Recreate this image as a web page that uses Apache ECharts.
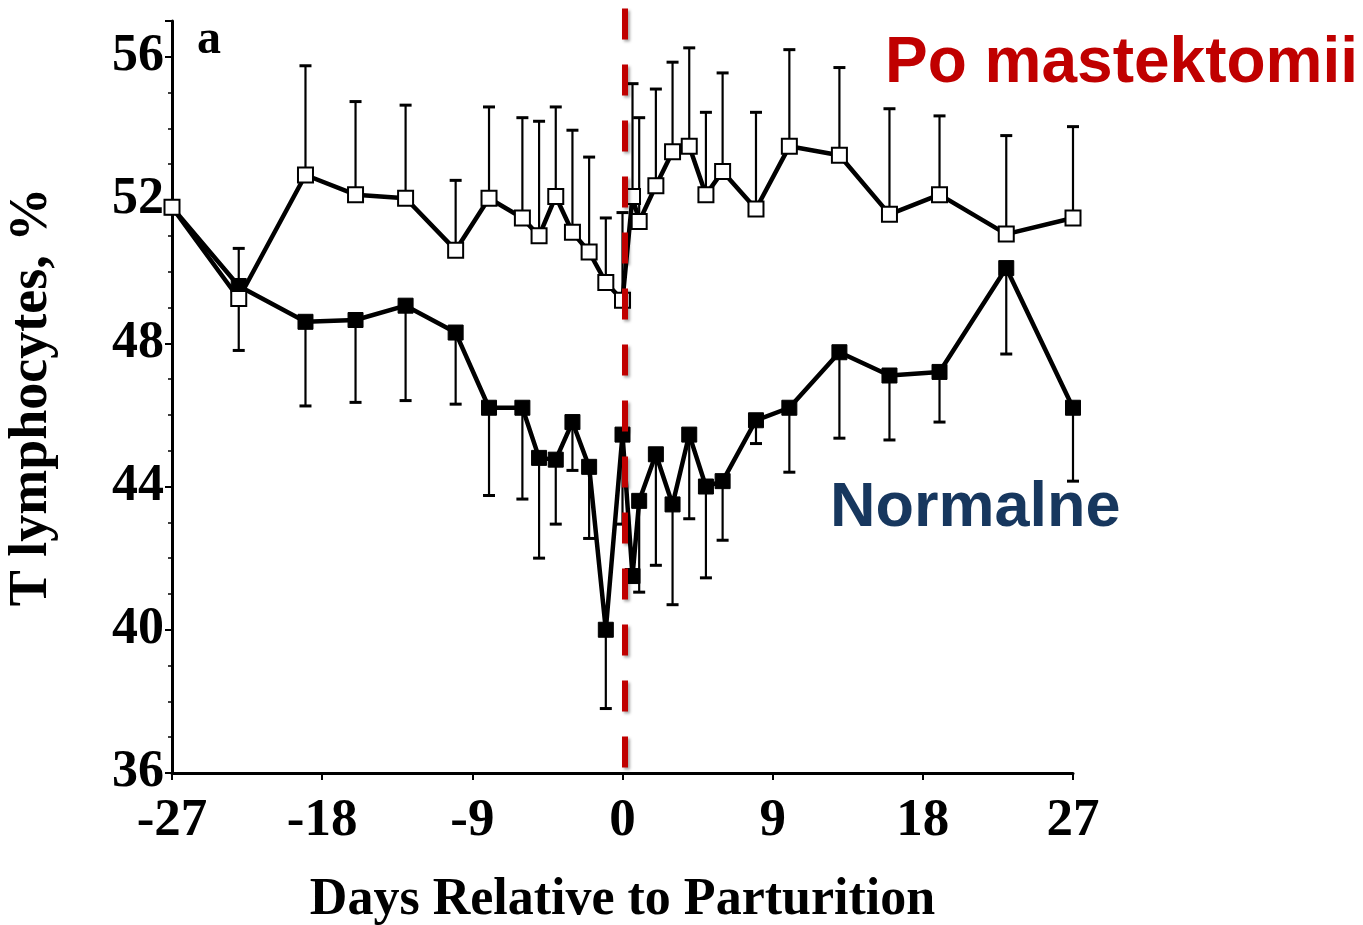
<!DOCTYPE html>
<html><head><meta charset="utf-8">
<script src="https://cdn.jsdelivr.net/npm/echarts@6/dist/echarts.min.js"></script>
<style>html,body{margin:0;padding:0;background:#fff}#c{width:1363px;height:925px}</style>
</head><body><div id="c"></div>
<script>
// Days relative to parturition (x values)
const days = [-27,-23,-19,-16,-13,-10,-8,-6,-5,-4,-3,-2,-1,0,0.6,1,2,3,4,5,6,8,10,13,16,19,23,27];
// "Normalne" (filled squares) means and SE (drawn downward)
const normalne = [51.8,49.6,48.6,48.65,49.05,48.3,46.2,46.2,44.8,44.75,45.8,44.55,40.0,45.45,41.5,43.6,44.9,43.5,45.45,44.0,44.15,45.85,46.2,47.75,47.1,47.2,50.1,46.2];
const normalneErr = [0,1.8,2.35,2.3,2.65,2.0,2.45,2.55,2.8,1.8,1.35,2.0,2.2,2.5,0,2.55,3.1,2.8,2.35,2.55,1.65,0.65,1.8,2.4,1.8,1.4,2.4,2.05];
// "Po mastektomii" (open squares) means and SE (drawn upward)
const mastektomia = [51.8,49.25,52.7,52.15,52.05,50.6,52.05,51.5,51.0,52.1,51.1,50.55,49.7,49.2,52.1,51.4,52.4,53.35,53.5,52.15,52.8,51.75,53.5,53.25,51.6,52.15,51.05,51.5];
const mastektomiaErr = [0,1.4,3.05,2.6,2.6,1.95,2.55,2.8,3.2,2.5,2.85,2.65,1.8,2.45,3.15,2.9,2.7,2.5,2.75,2.3,2.75,2.7,2.7,2.45,2.95,2.2,2.75,2.55];
// Axis ticks
const xTicks = [-27,-18,-9,0,9,18,27];
const yTicks = [36,40,44,48,52,56];
// Parturition marker (red dashed line)
const markerDay = 0.15;
const markerTop = 57.35;
const markerBottom = 36;

const serif = '"Liberation Serif","Times New Roman",serif';
const sans = '"Liberation Sans",Arial,sans-serif';

function errRender(params, api) {
  const x = api.value(0), y0 = api.value(1), y1 = api.value(2);
  if (y0 === y1) return null;
  const p0 = api.coord([x, y0]);
  const p1 = api.coord([x, y1]);
  const cap = 6;
  return {type: 'group', children: [
    {type: 'line', shape: {x1: p0[0], y1: p0[1], x2: p1[0], y2: p1[1]}, style: {stroke: '#000', lineWidth: 2.2}},
    {type: 'line', shape: {x1: p1[0]-cap, y1: p1[1], x2: p1[0]+cap, y2: p1[1]}, style: {stroke:'#000', lineWidth: 3}}
  ]};
}

const chart = echarts.init(document.getElementById('c'));
chart.setOption({
  animation: false,
  backgroundColor: '#fff',
  grid: {left: 172, right: 290, top: 21, bottom: 152, containLabel: false, outerBoundsMode: 'none'},
  xAxis: {
    type: 'value', min: -27, max: 27, interval: 9,
    axisLine: {onZero: false, lineStyle: {color: '#000', width: 3}},
    axisTick: {show: true, length: 7, lineStyle: {color: '#000', width: 2}},
    splitLine: {show: false},
    axisLabel: {color: '#000', fontFamily: serif, fontWeight: 'bold', fontSize: 53, margin: 22,
      formatter: v => xTicks.includes(v) ? String(v) : ''},
    name: 'Days Relative to Parturition', nameLocation: 'middle', nameGap: 102,
    nameTextStyle: {color: '#000', fontFamily: serif, fontWeight: 'bold', fontSize: 52}
  },
  yAxis: {
    type: 'value', min: 36, max: 57, interval: 4,
    axisLine: {show: true, onZero: false, lineStyle: {color: '#000', width: 3}},
    axisTick: {show: true, length: 7, lineStyle: {color: '#000', width: 2}},
    minorTick: {show: true, splitNumber: 4, length: 4, lineStyle: {color: '#000', width: 1.5}},
    splitLine: {show: false},
    axisLabel: {color: '#000', fontFamily: serif, fontWeight: 'bold', fontSize: 52, margin: 8,
      formatter: v => yTicks.includes(v) ? String(v) : ''},
    name: 'T lymphocytes, %', nameLocation: 'middle', nameGap: 113,
    nameTextStyle: {color: '#000', fontFamily: serif, fontWeight: 'bold', fontSize: 54}
  },
  graphic: [
    {type: 'text', left: 197, top: 17, style: {text: 'a', font: 'bold 48px ' + serif, fill: '#000'}},
    {type: 'text', left: 885, top: 32, style: {text: 'Po mastektomii', font: 'bold 64px ' + sans, fill: '#C00000'}},
    {type: 'text', left: 830, top: 477, style: {text: 'Normalne', font: 'bold 63px ' + sans, fill: '#17375E'}}
  ],
  series: [
    {
      type: 'custom', name: 'errN', renderItem: errRender, z: 1,
      data: days.map((d, i) => [d, normalne[i], normalne[i] - normalneErr[i]])
    },
    {
      type: 'custom', name: 'errM', renderItem: errRender, z: 1,
      data: days.map((d, i) => [d, mastektomia[i], mastektomia[i] + mastektomiaErr[i]])
    },
    {
      type: 'line', name: 'Normalne', z: 3,
      data: days.map((d, i) => [d, normalne[i]]),
      symbol: 'rect', symbolSize: 15,
      lineStyle: {color: '#000', width: 4.5},
      itemStyle: {color: '#000', borderColor: '#000', borderWidth: 1}
    },
    {
      type: 'line', name: 'Po mastektomii', z: 4,
      data: days.map((d, i) => [d, mastektomia[i]]),
      symbol: 'rect', symbolSize: 15,
      lineStyle: {color: '#000', width: 4.5},
      itemStyle: {color: '#fff', borderColor: '#000', borderWidth: 2}
    },
    {
      type: 'custom', name: 'marker', z: 10, clip: false,
      data: [[markerDay, markerTop, markerBottom]],
      renderItem: function (params, api) {
        const p0 = api.coord([api.value(0), api.value(1)]);
        const p1 = api.coord([api.value(0), api.value(2)]);
        return {type: 'line', shape: {x1: p0[0], y1: p0[1], x2: p1[0], y2: p1[1]},
          style: {stroke: '#C00000', lineWidth: 6, lineDash: [31, 25],
            shadowBlur: 3, shadowColor: 'rgba(0,0,0,0.35)', shadowOffsetX: 2, shadowOffsetY: 2}};
      }
    }
  ]
});
</script></body></html>
